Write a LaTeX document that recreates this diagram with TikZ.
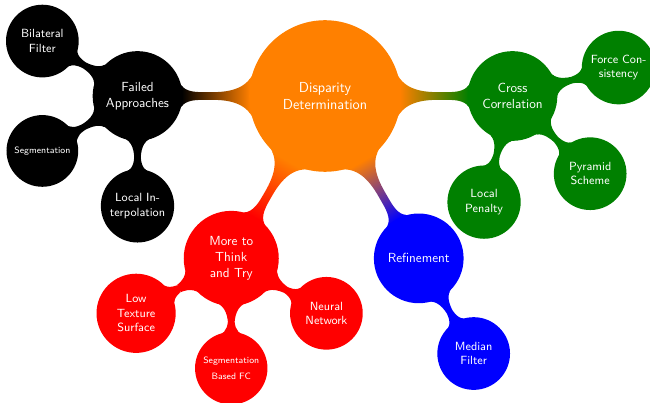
\documentclass[tikz,border=0pt]{standalone}
\usetikzlibrary{mindmap,backgrounds}

\colorlet{darkgreen}{green!50!black}

\tikzset{
  rootidea/.style={concept, concept color=orange, minimum size=4cm, text width=3.6cm,
    align=center, font=\sffamily\fontsize{11}{13}\selectfont},
  topic/.style={concept, minimum size=2.35cm, text width=2.1cm, align=center,
    font=\sffamily\normalsize},
  subtopic/.style={concept, minimum size=1.87cm, text width=1.7cm, align=center,
    font=\sffamily\small},
  tinytopic/.style={subtopic, font=\sffamily\fontsize{7}{12}\selectfont},
  link/.style args={#1 to #2}{circle connection bar switch color=from (#1) to (#2)}
}

\begin{document}
\begin{tikzpicture}[mindmap, text=white]
  \useasboundingbox (-8.667,-8.187) rectangle (8.667,2.56);
  \node[rootidea] (disp) at (0,0) {Disparity\\Determination};

  % first ring
  \node[topic, concept color=black] (failed) at (180:5cm) {Failed\\Approaches};
  \node[topic, concept color=darkgreen] (cross) at (0:5cm) {Cross\\Correlation};
  \node[topic, concept color=red] (more) at (240:5cm) {More to\\Think\\and Try};
  \node[topic, concept color=blue] (refine) at (300:5cm) {Refinement};

  % second ring
  \node[subtopic, concept color=black] (bilat) at ([shift={(150:2.93cm)}]failed) {Bilateral\\Filter};
  \node[tinytopic, concept color=black] (segm) at ([shift={(210:2.93cm)}]failed) {Segmentation};
  \node[subtopic, concept color=black] (interp) at ([shift={(270:2.93cm)}]failed) {Local In-\\terpolation};
  \node[subtopic, concept color=darkgreen] (force) at ([shift={(15:2.93cm)}]cross) {Force Con-\\sistency};
  \node[subtopic, concept color=darkgreen] (pyramid) at ([shift={(-45:2.93cm)}]cross) {Pyramid\\Scheme};
  \node[subtopic, concept color=darkgreen] (penalty) at ([shift={(-105:2.93cm)}]cross) {Local\\Penalty};
  \node[subtopic, concept color=red] (lowtex) at ([shift={(210:2.93cm)}]more) {Low\\Texture\\Surface};
  \node[tinytopic, concept color=red] (segfc) at ([shift={(270:2.93cm)}]more) {Segmentation\\Based FC};
  \node[subtopic, concept color=red] (neural) at ([shift={(330:2.93cm)}]more) {Neural\\Network};
  \node[subtopic, concept color=blue] (median) at ([shift={(300:2.93cm)}]refine) {Median\\Filter};

  % connection bars
  \begin{scope}[on background layer]
    \path (disp) to[link=orange to black] (failed);
    \path (disp) to[link=orange to darkgreen] (cross);
    \path (disp) to[link=orange to red] (more);
    \path (disp) to[link=orange to blue] (refine);
    \path (failed) to[link=black to black] (bilat);
    \path (failed) to[link=black to black] (segm);
    \path (failed) to[link=black to black] (interp);
    \path (cross) to[link=darkgreen to darkgreen] (force);
    \path (cross) to[link=darkgreen to darkgreen] (pyramid);
    \path (cross) to[link=darkgreen to darkgreen] (penalty);
    \path (more) to[link=red to red] (lowtex);
    \path (more) to[link=red to red] (segfc);
    \path (more) to[link=red to red] (neural);
    \path (refine) to[link=blue to blue] (median);
  \end{scope}
\end{tikzpicture}
\end{document}
